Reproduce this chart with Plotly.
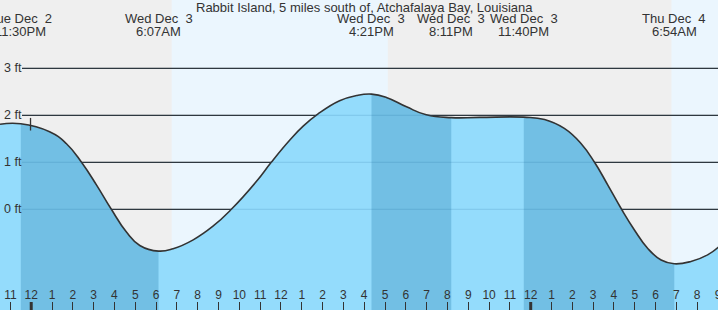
import plotly.graph_objects as go
import pandas as pd

# ---------------- data ----------------
times = [
    "2025-12-02 22:30", "2025-12-02 23:30", "2025-12-03 00:53", "2025-12-03 01:41",
    "2025-12-03 02:25", "2025-12-03 03:08", "2025-12-03 03:51", "2025-12-03 04:34",
    "2025-12-03 05:13", "2025-12-03 06:07", "2025-12-03 06:49", "2025-12-03 07:47",
    "2025-12-03 08:44", "2025-12-03 09:37", "2025-12-03 10:49", "2025-12-03 11:32",
    "2025-12-03 12:25", "2025-12-03 13:04", "2025-12-03 13:47", "2025-12-03 14:49",
    "2025-12-03 15:38", "2025-12-03 16:21", "2025-12-03 17:04", "2025-12-03 18:02",
    "2025-12-03 18:59", "2025-12-03 20:11", "2025-12-03 21:33", "2025-12-03 23:40",
    "2025-12-04 00:40", "2025-12-04 01:37", "2025-12-04 02:25", "2025-12-04 03:04",
    "2025-12-04 03:42", "2025-12-04 04:22", "2025-12-04 04:59", "2025-12-04 05:37",
    "2025-12-04 06:16", "2025-12-04 06:54", "2025-12-04 07:42", "2025-12-04 08:30",
    "2025-12-04 09:05",
]
levels_ft = [
    1.81, 1.82, 1.65, 1.40,
    1.00, 0.52, 0.00, -0.48,
    -0.77, -0.89, -0.84, -0.65,
    -0.36, 0.00, 0.59, 1.00,
    1.47, 1.77, 2.03, 2.31,
    2.42, 2.45, 2.38, 2.18,
    2.01, 1.95, 1.955, 1.96,
    1.91, 1.72, 1.40, 1.00,
    0.52, 0.00, -0.44, -0.83,
    -1.08, -1.16, -1.11, -0.97,
    -0.78,
]

event_times = ["2025-12-02 23:30", "2025-12-03 06:07", "2025-12-03 16:21",
               "2025-12-03 20:11", "2025-12-03 23:40", "2025-12-04 06:54"]
event_days = ["Tue Dec\u00a0 2", "Wed Dec\u00a0 3", "Wed Dec\u00a0 3",
              "Wed Dec\u00a0 3", "Wed Dec\u00a0 3", "Thu Dec\u00a0 4"]
event_clock = ["11:30PM", "6:07AM", "4:21PM", "8:11PM", "11:40PM", "6:54AM"]
# falling-tide intervals (darker shading): pairs of event indices
falling = [(0, 1), (2, 3), (4, 5)]

day_periods = [("2025-12-03 06:45", "2025-12-03 17:08"),
               ("2025-12-04 06:46", "2025-12-04 09:00")]
midnights = ["2025-12-03 00:00", "2025-12-04 00:00"]

now_time = "2025-12-02 23:58"
now_level = 1.81

y_tick_vals = [0, 1, 2, 3]
y_tick_text = ["0 ft", "1 ft", "2 ft", "3 ft"]

hour_tick_text = ["11", "12", "1", "2", "3", "4", "5", "6", "7", "8", "9", "10", "11",
                  "12", "1", "2", "3", "4", "5", "6", "7", "8", "9", "10", "11",
                  "12", "1", "2", "3", "4", "5", "6", "7", "8", "9"]
hour_tick_vals = pd.date_range("2025-12-02 23:00", periods=len(hour_tick_text), freq="h")

title_text = "Rabbit Island, 5 miles south of, Atchafalaya Bay, Louisiana"

x_range = ["2025-12-02 22:30", "2025-12-04 09:00"]
y_range = [-2.143, 4.453]

# ---------------- styling ----------------
W, H = 718, 310
NIGHT = "#efefef"
DAY = "#ebf6fe"
LIGHT = "#94dcfc"
DARK = "#72bfe4"
INK = "#333333"
FONT = "Liberation Sans, Arial, sans-serif"
BASE = -3.0
SMOOTH = 1.3

t = pd.to_datetime(pd.Series(times))
lv = pd.Series(levels_ft)

fig = go.Figure()

# full light fill
fig.add_trace(go.Scatter(x=[t.iloc[0], t.iloc[-1]], y=[BASE, BASE], mode="lines",
                         line=dict(width=0), hoverinfo="skip", showlegend=False))
fig.add_trace(go.Scatter(x=t, y=lv, mode="lines",
                         line=dict(width=0, shape="spline", smoothing=SMOOTH),
                         fill="tonexty", fillcolor=LIGHT, hoverinfo="skip", showlegend=False))

# darker falling-tide segments
for a, b in falling:
    ta, tb = pd.Timestamp(event_times[a]), pd.Timestamp(event_times[b])
    m = (t >= ta) & (t <= tb)
    fig.add_trace(go.Scatter(x=[ta, tb], y=[BASE, BASE], mode="lines",
                             line=dict(width=0), hoverinfo="skip", showlegend=False))
    fig.add_trace(go.Scatter(x=t[m], y=lv[m], mode="lines",
                             line=dict(width=0, shape="spline", smoothing=SMOOTH),
                             fill="tonexty", fillcolor=DARK, hoverinfo="skip", showlegend=False))

# outline
fig.add_trace(go.Scatter(x=t, y=lv, mode="lines",
                         line=dict(color=INK, width=1.6, shape="spline", smoothing=SMOOTH),
                         hoverinfo="skip", showlegend=False))

# current-time marker
fig.add_trace(go.Scatter(x=[pd.Timestamp(now_time)], y=[now_level], mode="markers",
                         marker=dict(symbol="line-ns", size=9, line=dict(color=INK, width=1.3)),
                         hoverinfo="skip", showlegend=False))

shapes = []
for d0, d1 in day_periods:
    shapes.append(dict(type="rect", xref="x", yref="paper", x0=d0, x1=d1, y0=0, y1=1,
                       fillcolor=DAY, line=dict(width=0), layer="below"))
gx0 = 22 / W
for v in y_tick_vals:
    shapes.append(dict(type="line", xref="paper", yref="y", x0=gx0, x1=1, y0=v, y1=v,
                       line=dict(color=INK, width=1.2), layer="below"))
    shapes.append(dict(type="line", xref="paper", yref="y", x0=gx0, x1=1, y0=v, y1=v,
                       line=dict(color="rgba(20,90,150,0.14)", width=1.2), layer="above"))
for mtime in midnights:
    shapes.append(dict(type="line", xref="x", yref="paper", x0=mtime, x1=mtime,
                       y0=0, y1=8 / H, line=dict(color=INK, width=3), layer="above"))

annotations = []
for et, dlab, clab in zip(event_times, event_days, event_clock):
    annotations.append(dict(x=et, xref="x", y=1 - 18.5 / H, yref="paper", text=dlab,
                            showarrow=False, xanchor="center", yanchor="middle",
                            font=dict(family=FONT, size=13, color=INK)))
    annotations.append(dict(x=et, xref="x", y=1 - 31.5 / H, yref="paper", text=clab,
                            showarrow=False, xanchor="center", yanchor="middle",
                            font=dict(family=FONT, size=13, color=INK)))
annotations.append(dict(x=364.5 / W, xref="paper", y=1 - 7 / H, yref="paper", text=title_text,
                        showarrow=False, xanchor="center", yanchor="middle",
                        font=dict(family=FONT, size=13, color=INK)))
for v, txt in zip(y_tick_vals, y_tick_text):
    annotations.append(dict(x=1.5 / W, xref="paper", y=v, yref="y", text=txt,
                            showarrow=False, xanchor="left", yanchor="middle",
                            font=dict(family=FONT, size=12.5, color=INK)))

fig.update_layout(
    width=W, height=H,
    margin=dict(l=0, r=0, t=0, b=0, pad=0, autoexpand=False),
    paper_bgcolor=NIGHT, plot_bgcolor=NIGHT,
    showlegend=False,
    shapes=shapes, annotations=annotations,
    font=dict(family=FONT, color=INK),
)
fig.update_xaxes(
    type="date", range=x_range, showgrid=False, zeroline=False, showline=False,
    automargin=False,
    tickmode="array", tickvals=hour_tick_vals, ticktext=hour_tick_text,
    ticks="inside", ticklen=8, tickwidth=1, tickcolor=INK,
    ticklabelposition="inside", ticklabelstandoff=0, ticklabeloverflow="allow",
    tickfont=dict(family=FONT, size=12, color=INK),
)
fig.update_yaxes(
    range=y_range, showgrid=False, zeroline=False, showline=False, automargin=False,
    showticklabels=False, ticks="",
)

fig.write_html("out.html")
